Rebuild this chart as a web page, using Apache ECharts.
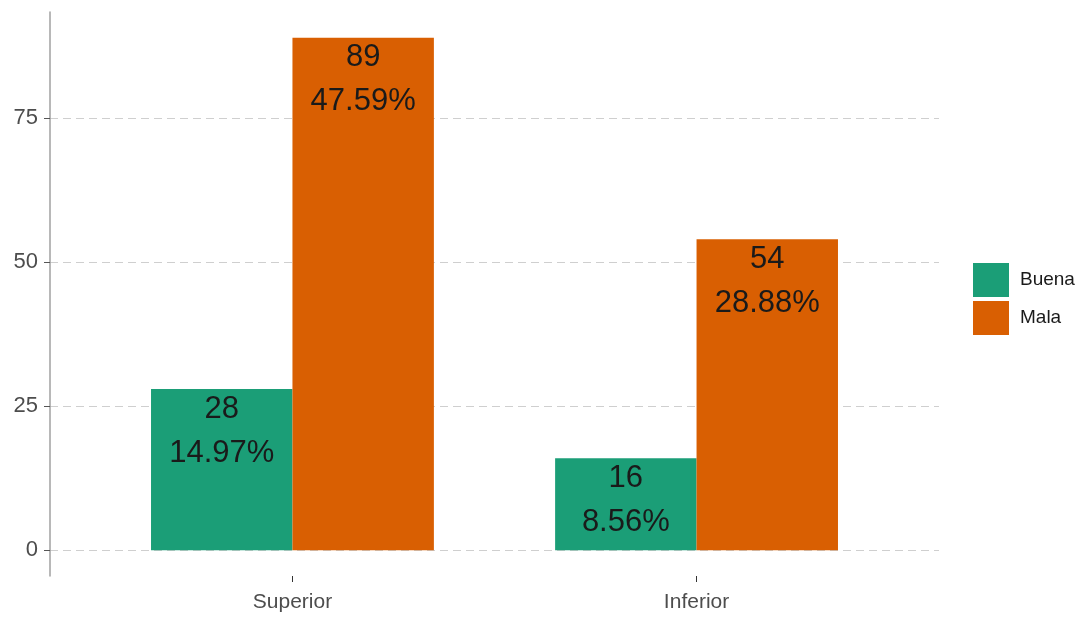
<!DOCTYPE html>
<html>
<head>
<meta charset="utf-8">
<script src="https://cdn.jsdelivr.net/npm/echarts@6/dist/echarts.min.js"></script>
<style>html,body{margin:0;padding:0;background:#fff}#c{width:1092px;height:617px}</style>
</head>
<body>
<div id="c"></div>
<script>
const categories = ['Superior', 'Inferior'];
const seriesNames = ['Buena', 'Mala'];
const buenaValues = [28, 16];
const malaValues = [89, 54];
const buenaPct = ['14.97%', '8.56%'];
const malaPct = ['47.59%', '28.88%'];
const yTicks = [0, 25, 50, 75];
const colors = ['#1B9E77', '#D95F02'];

const chart = echarts.init(document.getElementById('c'));
function mk(name, vals, pcts, color) {
  return {
    name: name,
    type: 'bar',
    barWidth: '35%',
    barGap: '0%',
    itemStyle: { color: color },
    data: vals.map((v, i) => [i + 1, v]),
    label: {
      show: true,
      position: 'insideTop',
      distance: 0,
      offset: [0, -2],
      fontFamily: 'Liberation Sans, Arial, sans-serif',
      fontSize: 31,
      lineHeight: 44,
      color: '#1a1a1a',
      formatter: p => vals[p.dataIndex] + '\n' + pcts[p.dataIndex]
    }
  };
}
chart.setOption({
  animation: false,
  backgroundColor: '#ffffff',
  color: colors,
  grid: { left: 50, top: 12, right: 153, bottom: 41 },
  legend: {
    orient: 'vertical',
    left: 968, top: 258,
    itemWidth: 36, itemHeight: 34, itemGap: 4,
    icon: 'rect',
    data: seriesNames,
    textStyle: { fontFamily: 'Liberation Sans, Arial, sans-serif', fontSize: 19, color: '#1a1a1a', padding: [0, 0, 0, 6] }
  },
  xAxis: {
    type: 'value',
    min: 0.4, max: 2.6,
    axisLine: { show: false, onZero: false },
    splitLine: { show: false },
    axisTick: { show: true, customValues: [1, 2], length: 6, lineStyle: { color: '#333' } },
    axisLabel: {
      customValues: [1, 2],
      margin: 16,
      fontFamily: 'Liberation Sans, Arial, sans-serif',
      fontSize: 21, color: '#4d4d4d',
      formatter: v => categories[Math.round(v) - 1]
    }
  },
  yAxis: {
    type: 'value',
    min: -4.45, max: 93.45,
    axisLine: { show: true, lineStyle: { color: '#a0a0a0', width: 1.5 } },
    axisTick: { show: true, customValues: yTicks, length: 6, lineStyle: { color: '#555' } },
    axisLabel: {
      customValues: yTicks,
      margin: 12,
      fontFamily: 'Liberation Sans, Arial, sans-serif',
      fontSize: 22, color: '#4d4d4d'
    },
    splitLine: { show: true, lineStyle: { color: '#cfcfcf', type: [8, 5], width: 1.2 } }
  },
  series: [
    mk(seriesNames[0], buenaValues, buenaPct, colors[0]),
    mk(seriesNames[1], malaValues, malaPct, colors[1])
  ]
});
</script>
</body>
</html>
